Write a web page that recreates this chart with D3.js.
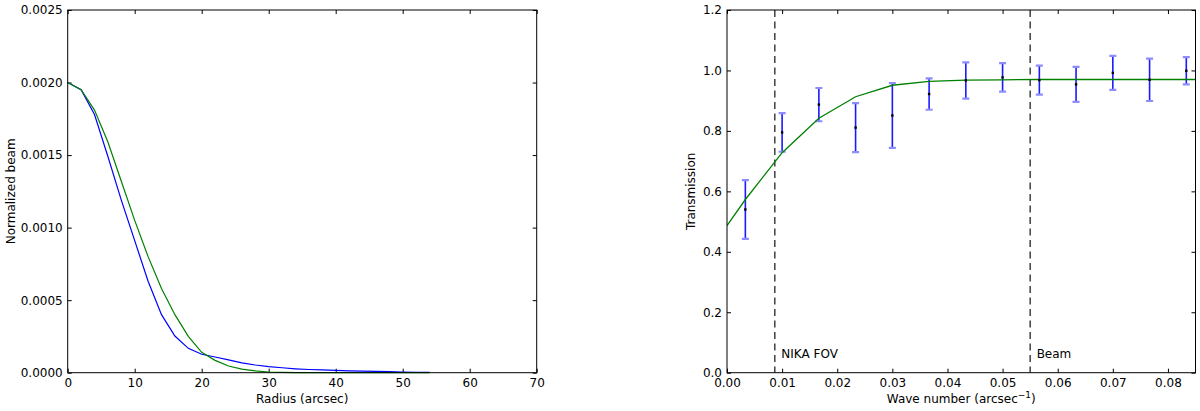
<html><head>
<title>beam and transfer function</title>
<script src="https://d3js.org/d3.v7.min.js" type="text/javascript"></script>
<style>
  body { margin: 0; background: #fff; }
  svg text { font-family: "DejaVu Sans", sans-serif; font-size: 12px; fill: #000; }
  .frame { fill: none; stroke: #000; stroke-width: 1; }
  .tick line { stroke: #000; stroke-width: 1; }
  .domain { display: none; }
  .beam-blue { fill: none; stroke: #0000ff; stroke-width: 1.2; }
  .beam-green { fill: none; stroke: #008000; stroke-width: 1.2; }
  .model-line { fill: none; stroke: #008000; stroke-width: 1.3; }
  .err-bar { stroke: #1a1aff; stroke-width: 1.6; }
  .err-cap { stroke: #8c8cff; stroke-width: 2.2; }
  .marker-line { stroke: #111; stroke-width: 1.2; stroke-dasharray: 7,4.5; }
</style>
</head>
<body>
<svg id="fig" width="1200" height="411"></svg>

<script type="text/javascript">

// left panel : beam profiles
var radius = [0, 2, 4, 6, 8, 10, 12, 14, 16, 18, 20, 22, 24, 26, 28, 30, 32, 34, 36, 38, 40, 42, 44, 46, 48, 50, 52, 54]
var beamBlue = [0.00200, 0.00195, 0.00178, 0.00149, 0.00119, 0.00091, 0.00063, 0.00040, 0.000253, 0.000168,
                0.000127, 0.000108, 0.000088, 0.000068, 0.000053, 0.000042, 0.000034, 0.000027, 0.000022, 0.000019,
                0.000016, 0.000013, 0.000011, 0.000009, 0.000007, 0.000005, 0.000003, 0.000002]
var beamGreen = [0.00200, 0.00195, 0.00181, 0.00159, 0.00132, 0.00105, 0.00080, 0.00058, 0.00040, 0.000250,
                 0.000140, 0.000085, 0.000046, 0.000025, 0.000012, 0.000005, 0.000002, 0.000001, 0, 0,
                 0, 0, 0, 0, 0, 0, 0, 0]
var radiusTicks = [0, 10, 20, 30, 40, 50, 60, 70]
var beamTicks = [0, 0.0005, 0.0010, 0.0015, 0.0020, 0.0025]

// right panel : transmission
var waveK = [0.00333, 0.01, 0.01667, 0.02333, 0.03, 0.03667, 0.04333, 0.05, 0.05667, 0.06333, 0.07, 0.07667, 0.08333]
var trans = [0.540, 0.795, 0.887, 0.811, 0.851, 0.922, 0.967, 0.977, 0.968, 0.954, 0.992, 0.969, 0.999]
var transErr = [0.097, 0.064, 0.055, 0.081, 0.107, 0.052, 0.060, 0.047, 0.048, 0.058, 0.056, 0.070, 0.045]
var modelK = [0, 0.00333, 0.01, 0.01667, 0.02333, 0.03, 0.03667, 0.04333, 0.05, 0.05667, 0.06333, 0.07, 0.07667, 0.08333, 0.085]
var modelT = [0.487, 0.573, 0.728, 0.842, 0.913, 0.951, 0.964, 0.968, 0.969, 0.970, 0.970, 0.970, 0.970, 0.970, 0.970]
var waveTicks = [0, 0.01, 0.02, 0.03, 0.04, 0.05, 0.06, 0.07, 0.08]
var transTicks = [0, 0.2, 0.4, 0.6, 0.8, 1.0, 1.2]
var markerK = [0.00868, 0.0550]
var markerText = ["NIKA FOV", "Beam"]

var svg = d3.select('#fig')

// note: "top" is taken by window.top, so use other names
var plotTop = 10, plotBottom = 372.7

function makePanel(x0, x1, xScale, yScale, xTicks, yTicks, xFmt, yFmt) {
  var g = svg.append('g')

  // ticks inside on all four sides
  var ax = d3.axisBottom(xScale).tickValues(xTicks).tickFormat(xFmt).tickSizeInner(-4).tickSizeOuter(0).tickPadding(6)
  g.append('g').attr('transform', 'translate(0,' + plotBottom + ')').call(ax)
  var axT = d3.axisTop(xScale).tickValues(xTicks).tickFormat('').tickSizeInner(-4).tickSizeOuter(0)
  g.append('g').attr('transform', 'translate(0,' + plotTop + ')').call(axT)

  var ay = d3.axisLeft(yScale).tickValues(yTicks).tickFormat(yFmt).tickSizeInner(-4).tickSizeOuter(0).tickPadding(5)
  g.append('g').attr('transform', 'translate(' + x0 + ',0)').call(ay)
  var ayR = d3.axisRight(yScale).tickValues(yTicks).tickFormat('').tickSizeInner(-4).tickSizeOuter(0)
  g.append('g').attr('transform', 'translate(' + x1 + ',0)').call(ayR)

  g.selectAll('g').attr('font-family', null).attr('font-size', null)

  return g
}

// ---- left panel
var xL = d3.scaleLinear().domain([0, 70]).range([67.7, 536.7])
var yL = d3.scaleLinear().domain([0, 0.0025]).range([plotBottom, plotTop])

var gL = makePanel(67.7, 536.7, xL, yL, radiusTicks, beamTicks, d3.format('d'), d3.format('.4f'))

var beamLine = d3.line().x(function(d, i) { return xL(radius[i]) })

gL.append('path').classed('beam-blue', true)
  .attr('d', beamLine.y(function(d) { return yL(d) })(beamBlue))
gL.append('path').classed('beam-green', true)
  .attr('d', beamLine.y(function(d) { return yL(d) })(beamGreen))

gL.append('rect').classed('frame', true)
  .attr('x', 67.7).attr('y', plotTop).attr('width', 536.7 - 67.7).attr('height', plotBottom - plotTop)

gL.append('text').attr('text-anchor', 'middle')
  .attr('x', (67.7 + 536.7) / 2).attr('y', 403)
  .text('Radius (arcsec)')
gL.append('text').attr('text-anchor', 'middle')
  .attr('transform', 'translate(15,' + (plotTop + plotBottom) / 2 + ') rotate(-90)')
  .text('Normalized beam')

// ---- right panel
var xR = d3.scaleLinear().domain([0, 0.085]).range([727, 1195.5])
var yR = d3.scaleLinear().domain([0, 1.2]).range([plotBottom, plotTop])

var gR = makePanel(727, 1195.5, xR, yR, waveTicks, transTicks, d3.format('.2f'), d3.format('.1f'))

// clip for lines inside the box
svg.append('clipPath').attr('id', 'clipR').append('rect')
  .attr('x', 727).attr('y', plotTop).attr('width', 1195.5 - 727).attr('height', plotBottom - plotTop)

var plotR = gR.append('g').attr('clip-path', 'url(#clipR)')

// vertical markers
plotR.selectAll('.marker-line').data(markerK).enter().append('line')
  .classed('marker-line', true)
  .attr('x1', function(d) { return xR(d) }).attr('x2', function(d) { return xR(d) })
  .attr('y1', plotTop).attr('y2', plotBottom)

gR.selectAll('.marker-label').data(markerK).enter().append('text')
  .attr('x', function(d) { return xR(d) + 6.5 })
  .attr('y', 357.5)
  .text(function(d, i) { return markerText[i] })

// error bars
var caps = 3.5
var bars = plotR.selectAll('.eb').data(trans).enter().append('g')
bars.append('line').classed('err-bar', true)
  .attr('x1', function(d, i) { return xR(waveK[i]) }).attr('x2', function(d, i) { return xR(waveK[i]) })
  .attr('y1', function(d, i) { return yR(d - transErr[i]) }).attr('y2', function(d, i) { return yR(d + transErr[i]) })
bars.append('line').classed('err-cap', true)
  .attr('x1', function(d, i) { return xR(waveK[i]) - caps }).attr('x2', function(d, i) { return xR(waveK[i]) + caps })
  .attr('y1', function(d, i) { return yR(d + transErr[i]) }).attr('y2', function(d, i) { return yR(d + transErr[i]) })
bars.append('line').classed('err-cap', true)
  .attr('x1', function(d, i) { return xR(waveK[i]) - caps }).attr('x2', function(d, i) { return xR(waveK[i]) + caps })
  .attr('y1', function(d, i) { return yR(d - transErr[i]) }).attr('y2', function(d, i) { return yR(d - transErr[i]) })

// model curve
plotR.append('path').classed('model-line', true)
  .attr('d', d3.line().x(function(d, i) { return xR(modelK[i]) }).y(function(d) { return yR(d) })(modelT))

// data points
plotR.selectAll('.pt').data(trans).enter().append('rect')
  .attr('x', function(d, i) { return xR(waveK[i]) - 1.2 })
  .attr('y', function(d) { return yR(d) - 1.2 })
  .attr('width', 2.4).attr('height', 2.4)
  .attr('fill', '#000')

gR.append('rect').classed('frame', true)
  .attr('x', 727).attr('y', plotTop).attr('width', 1195.5 - 727).attr('height', plotBottom - plotTop)

var xlab = gR.append('text').attr('text-anchor', 'middle')
  .attr('x', (727 + 1195.5) / 2).attr('y', 403)
xlab.append('tspan').text('Wave number (arcsec')
xlab.append('tspan').attr('dy', -5).attr('font-size', '9px').text('\u22121')
xlab.append('tspan').attr('dy', 5).text(')')

gR.append('text').attr('text-anchor', 'middle')
  .attr('transform', 'translate(695,' + (plotTop + plotBottom) / 2 + ') rotate(-90)')
  .text('Transmission')

</script>
</body>
</html>
